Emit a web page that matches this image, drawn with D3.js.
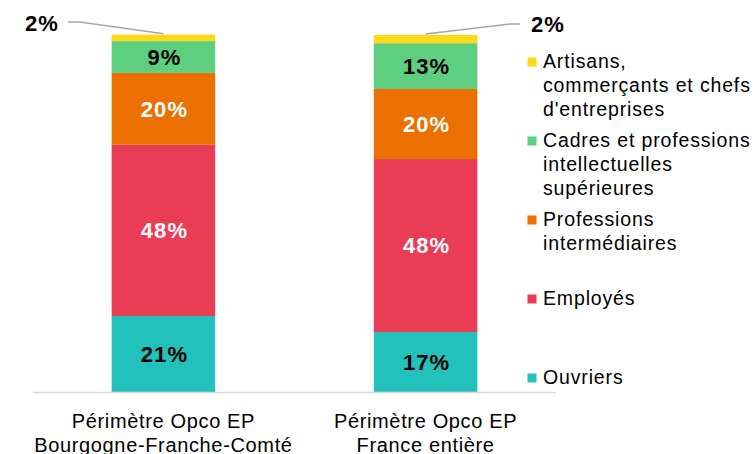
<!DOCTYPE html>
<html><head><meta charset="utf-8">
<script src="https://cdn.jsdelivr.net/npm/d3@7"></script>
<style>
body{margin:0;background:#fff;}
svg text{font-family:"Liberation Sans",Arial,sans-serif;}
</style></head>
<body><svg id="c" width="755" height="454"></svg>
<script>
const categories = [["Périmètre Opco EP","Bourgogne-Franche-Comté"],["Périmètre Opco EP","France entière"]];
const seriesNames = ["Ouvriers","Employés","Professions intermédiaires","Cadres et professions intellectuelles supérieures","Artisans, commerçants et chefs d'entreprises"];
const ouvriers = [21.4, 16.9];
const employes = [47.9, 48.4];
const professionsInter = [20.1, 19.6];
const cadres = [8.9, 12.8];
const artisans = [1.8, 2.3];
const legendLines = [["Artisans,","commerçants et chefs","d'entreprises"],["Cadres et professions","intellectuelles","supérieures"],["Professions","intermédiaires"],["Employés"],["Ouvriers"]];
const colors = ["#22C1BC","#EA3C55","#EB7000","#5ECF80","#FFD916"];
const labelColors = ["#000","#fff","#fff","#000","#000"];

const valuesBySeries = [ouvriers, employes, professionsInter, cadres, artisans];
const keys = seriesNames;
const rows = categories.map((c,i)=>{const r={idx:i}; keys.forEach((k,j)=>r[k]=valuesBySeries[j][i]); return r;});
const stacked = d3.stack().keys(keys)(rows);

const svg = d3.select("#c");
const x = d3.scaleBand().domain(d3.range(categories.length)).range([33,556]).paddingInner(0.605).paddingOuter(0.3);
const y = d3.scaleLinear().domain([0,100]).range([392.5,35]);

stacked.forEach((s,si)=>{
  svg.append("g").selectAll("rect").data(s).join("rect")
    .attr("x",d=>x(d.data.idx)).attr("width",x.bandwidth())
    .attr("y",d=>y(d[1])).attr("height",d=>y(d[0])-y(d[1]))
    .attr("fill",colors[si]);
});

svg.append("line").attr("x1",33).attr("x2",556).attr("y1",392.5).attr("y2",392.5)
  .attr("stroke","#D9D9D9").attr("stroke-width",1.5);

stacked.forEach((s,si)=>{
  if(si===4) return;
  svg.append("g").selectAll("text").data(s).join("text")
    .attr("x",d=>x(d.data.idx)+x.bandwidth()/2+1)
    .attr("y",d=>(y(d[0])+y(d[1]))/2)
    .attr("dy","0.36em")
    .attr("text-anchor","middle")
    .attr("font-size",22).attr("font-weight","bold").attr("letter-spacing",1.1)
    .attr("fill",labelColors[si])
    .text(d=>Math.round(d[1]-d[0])+"%");
});

const topSeries = stacked[4];
topSeries.forEach((d,i)=>{
  const cx = x(d.data.idx)+x.bandwidth()/2;
  const cy = y(d[1])-1;
  const left = i===0;
  const pts = left ? [[cx,cy],[80,22],[68,22]] : [[cx,cy],[510,24],[520,24]];
  svg.append("path").attr("d",d3.line()(pts)).attr("fill","none").attr("stroke","#A6A6A6").attr("stroke-width",1.5);
  svg.append("text").attr("x",left?42:548).attr("y",left?23:24).attr("dy","0.36em")
    .attr("text-anchor","middle").attr("font-size",22).attr("font-weight","bold").attr("letter-spacing",1.1)
    .attr("fill","#000").text(Math.round(d[1]-d[0])+"%");
});

categories.forEach((lines,i)=>{
  const t = svg.append("text").attr("text-anchor","middle").attr("font-size",20).attr("letter-spacing",0.65).attr("fill","#000");
  lines.forEach((l,j)=>t.append("tspan").attr("x",x(i)+x.bandwidth()/2).attr("y",427.5+j*24).text(l));
});

legendLines.forEach((lines,i)=>{
  const by = 68 + i*79;
  svg.append("rect").attr("x",527.5).attr("y",by-10.5).attr("width",9).attr("height",9).attr("fill",colors[4-i]);
  const t = svg.append("text").attr("font-size",19.5).attr("letter-spacing",0.85).attr("fill","#000");
  lines.forEach((l,j)=>t.append("tspan").attr("x",543).attr("y",by+j*24.2).text(l));
});
</script></body></html>
